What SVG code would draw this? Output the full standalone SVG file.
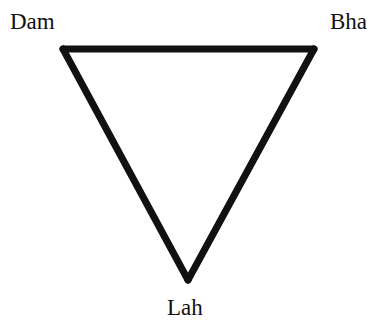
<svg xmlns="http://www.w3.org/2000/svg" width="373" height="320" viewBox="0 0 373 320">
<style>
.lbl{font-family:"Liberation Serif","Times New Roman",serif;font-size:23px;fill:#111}
.edge{fill:none;stroke:#111;stroke-width:7;stroke-linejoin:round;stroke-linecap:round}
</style>
<rect width="373" height="320" fill="#fff"/>
<g id="connectors">
<path class="edge" d="M63,49 L314,49"/>
<path class="edge" d="M314,49 L188,280"/>
<path class="edge" d="M188,280 L63,49"/>
</g>
<g id="node-dam"><text class="lbl" x="10" y="29">Dam</text></g>
<g id="node-bha"><text class="lbl" x="330" y="29">Bha</text></g>
<g id="node-lah"><text class="lbl" x="167" y="315">Lah</text></g>
</svg>
